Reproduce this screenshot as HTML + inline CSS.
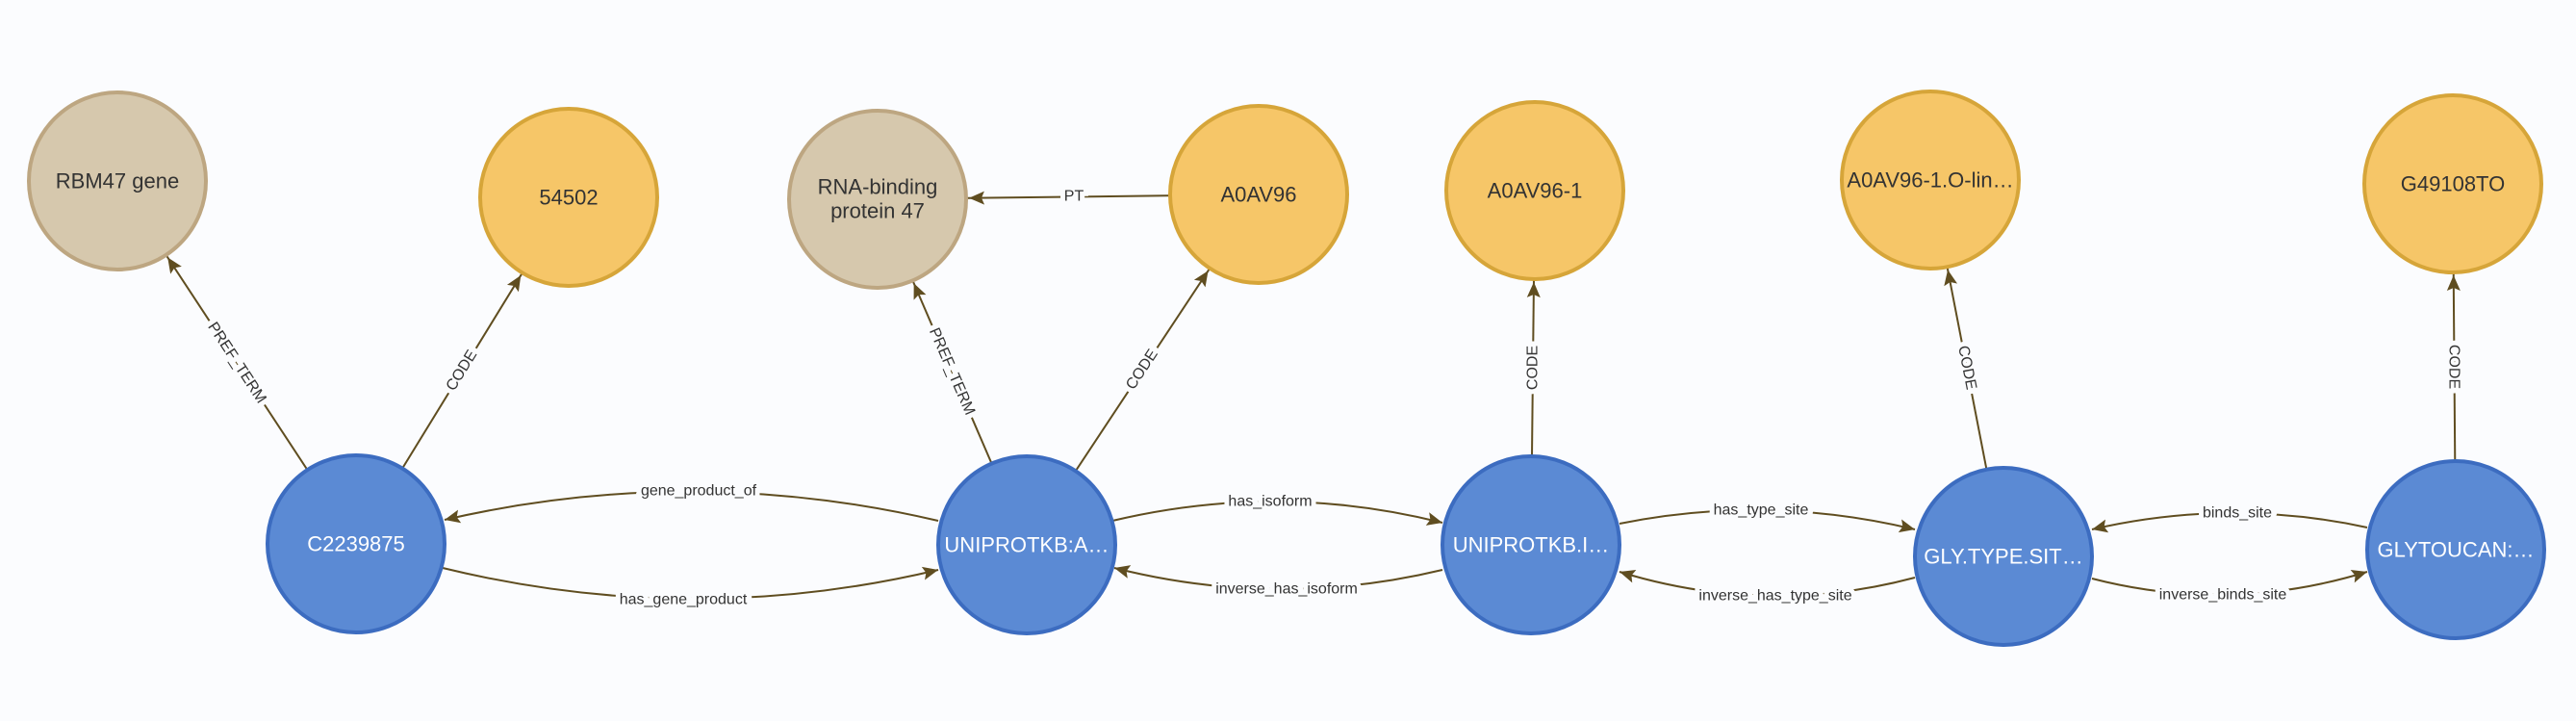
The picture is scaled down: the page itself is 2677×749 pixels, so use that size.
<!DOCTYPE html>
<html><head><meta charset="utf-8"><style>
html,body{margin:0;padding:0;background:#fbfcfe;}
svg{display:block;font-family:"Liberation Sans",sans-serif;}
.e{stroke:#5f4d20;stroke-width:2;fill:none;}
.l{font-size:16px;fill:#333;text-anchor:middle;dominant-baseline:central;paint-order:stroke;stroke:#fbfcfe;stroke-width:10px;}
.n{font-size:22px;text-anchor:middle;dominant-baseline:central;}
.tan{fill:#d6c8ad;stroke:#bda681;stroke-width:4;}
.yel{fill:#f6c668;stroke:#d6a539;stroke-width:4;}
.blu{fill:#5b8ad4;stroke:#3c6cc0;stroke-width:4;}
</style></head><body>
<svg width="2677" height="749" viewBox="0 0 2677 749">
<defs>
<marker id="far" markerUnits="userSpaceOnUse" viewBox="-120 -10 130 20" refX="0" refY="0" markerWidth="130" markerHeight="20" orient="auto">
<path d="M-95,0 L-111,-7 L-108,0 L-111,7 z" fill="#5f4d20"/></marker>
<marker id="tip" markerUnits="userSpaceOnUse" viewBox="-20 -10 22 20" refX="0" refY="0" markerWidth="22" markerHeight="20" orient="auto">
<path d="M0,0 L-16,-7 L-13,0 L-16,7 z" fill="#5f4d20"/></marker>
</defs>

<line class="e" x1="370" y1="565" x2="122" y2="188" marker-end="url(#far)"/>
<line class="e" x1="370" y1="565" x2="591" y2="205" marker-end="url(#far)"/>
<line class="e" x1="1067" y1="566" x2="912" y2="207" marker-end="url(#far)"/>
<line class="e" x1="1067" y1="566" x2="1308" y2="202" marker-end="url(#far)"/>
<line class="e" x1="1308" y1="202" x2="912" y2="207" marker-end="url(#far)"/>
<line class="e" x1="1591" y1="566" x2="1595" y2="198" marker-end="url(#far)"/>
<line class="e" x1="2082" y1="578" x2="2006" y2="187" marker-end="url(#far)"/>
<line class="e" x1="2552" y1="571" x2="2549" y2="191" marker-end="url(#far)"/>

<path class="e" d="M975,541 Q718,481 462,540" marker-end="url(#tip)"/>
<path class="e" d="M460,590 Q718,653 975,592" marker-end="url(#tip)"/>
<path class="e" d="M1156,541 Q1328,500 1499,543" marker-end="url(#tip)"/>
<path class="e" d="M1499,592 Q1328,633 1158,590" marker-end="url(#tip)"/>
<path class="e" d="M1683,544 Q1836,513 1990,550" marker-end="url(#tip)"/>
<path class="e" d="M1990,600 Q1836,641 1683,594" marker-end="url(#tip)"/>
<path class="e" d="M2460,548 Q2317,517 2174,550" marker-end="url(#tip)"/>
<path class="e" d="M2174,601 Q2317,638 2460,594" marker-end="url(#tip)"/>

<text class="l" transform="translate(246,377) rotate(56.7)">PREF_TERM</text>
<text class="l" transform="translate(480,385) rotate(-58.5)">CODE</text>
<text class="l" transform="translate(989,386) rotate(66.6)">PREF_TERM</text>
<text class="l" transform="translate(1187,384) rotate(-56.5)">CODE</text>
<text class="l" x="1116" y="204">PT</text>
<text class="l" transform="translate(1593,382) rotate(-90)">CODE</text>
<text class="l" transform="translate(2044,382) rotate(79)">CODE</text>
<text class="l" transform="translate(2550,381) rotate(90)">CODE</text>
<text class="l" x="726" y="510">gene_product_of</text>
<text class="l" x="710" y="623">has_gene_product</text>
<text class="l" x="1320" y="521">has_isoform</text>
<text class="l" x="1337" y="612">inverse_has_isoform</text>
<text class="l" x="1830" y="530">has_type_site</text>
<text class="l" x="1845" y="619">inverse_has_type_site</text>
<text class="l" x="2325" y="533">binds_site</text>
<text class="l" x="2310" y="618">inverse_binds_site</text>

<circle class="tan" cx="122" cy="188" r="92"/>
<text class="n" x="122" y="188" fill="#333">RBM47 gene</text>
<circle class="yel" cx="591" cy="205" r="92"/>
<text class="n" x="591" y="205" fill="#333">54502</text>
<circle class="tan" cx="912" cy="207" r="92"/>
<text class="n" x="912" y="194" fill="#333">RNA-binding</text>
<text class="n" x="912" y="219" fill="#333">protein 47</text>
<circle class="yel" cx="1308" cy="202" r="92"/>
<text class="n" x="1308" y="202" fill="#333">A0AV96</text>
<circle class="yel" cx="1595" cy="198" r="92"/>
<text class="n" x="1595" y="198" fill="#333">A0AV96-1</text>
<circle class="yel" cx="2006" cy="187" r="92"/>
<text class="n" x="2006" y="187" fill="#333">A0AV96-1.O-lin…</text>
<circle class="yel" cx="2549" cy="191" r="92"/>
<text class="n" x="2549" y="191" fill="#333">G49108TO</text>

<circle class="blu" cx="370" cy="565" r="92"/>
<text class="n" x="370" y="565" fill="#fff">C2239875</text>
<circle class="blu" cx="1067" cy="566" r="92"/>
<text class="n" x="1067" y="566" fill="#fff">UNIPROTKB:A…</text>
<circle class="blu" cx="1591" cy="566" r="92"/>
<text class="n" x="1591" y="566" fill="#fff">UNIPROTKB.I…</text>
<circle class="blu" cx="2082" cy="578" r="92"/>
<text class="n" x="2082" y="578" fill="#fff">GLY.TYPE.SIT…</text>
<circle class="blu" cx="2552" cy="571" r="92"/>
<text class="n" x="2552" y="571" fill="#fff">GLYTOUCAN:…</text>
</svg>
</body></html>
